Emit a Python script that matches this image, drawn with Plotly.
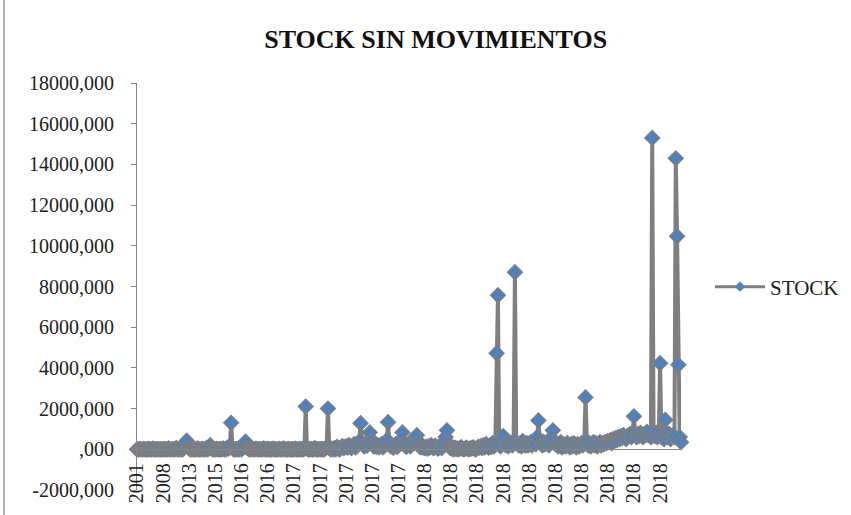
import plotly.graph_objects as go

# Category labels shown on the x axis (one label every 20 categories)
tick_labels = ["2001", "2008", "2013", "2015", "2016", "2016",
               "2017", "2017", "2017", "2017", "2017",
               "2018", "2018", "2018", "2018", "2018",
               "2018", "2018", "2018", "2018", "2018"]
label_step = 20

# Stock without movements, one value per item (in label order)
stock = [
    0, 0, 10, 0, 0, 20, 0, 0, 0, 15, 0, 0, 30, 0, 0, 0, 10, 0, 0, 0,
    0, 20, 0, 0, 40, 0, 0, 10, 0, 0, 60, 0, 0, 25, 0, 0, 80, 150, 420, 90,
    30, 0, 0, 15, 0, 0, 40, 0, 0, 0, 20, 0, 0, 60, 0, 30, 200, 50, 0, 0,
    0, 25, 0, 0, 10, 0, 50, 0, 0, 80, 40, 130, 1300, 60, 0, 0, 20, 0, 0, 45,
    0, 70, 160, 380, 90, 30, 0, 0, 20, 0, 0, 35, 0, 0, 10, 0, 0, 50, 0, 0,
    15, 0, 0, 0, 30, 0, 0, 0, 0, 20, 0, 0, 45, 0, 0, 0, 10, 0, 0, 0,
    0, 30, 0, 0, 0, 20, 0, 0, 40, 2100, 30, 0, 0, 15, 0, 0, 60, 0, 0, 10,
    0, 25, 0, 0, 50, 90, 2000, 70, 0, 30, 0, 60, 0, 120, 40, 0, 90, 150, 60, 100,
    140, 80, 200, 120, 60, 180, 250, 90, 150, 300, 400, 1280, 350, 200, 150, 260, 180, 300, 830, 400,
    250, 150, 300, 120, 200, 90, 180, 250, 100, 160, 300, 450, 1330, 350, 150, 200, 80, 180, 250, 120,
    200, 300, 450, 830, 250, 180, 120, 200, 300, 150, 250, 350, 300, 400, 690, 300, 150, 100, 200, 80,
    60, 120, 40, 150, 80, 200, 100, 60, 180, 120, 40, 80, 150, 60, 200, 400, 600, 930, 300, 100,
    60, 30, 0, 80, 20, 40, 0, 60, 100, 20, 0, 40, 80, 20, 0, 60, 30, 90, 40, 0,
    50, 120, 80, 150, 60, 200, 100, 250, 150, 80, 200, 120, 300, 150, 250, 4720, 7570, 300, 150, 400,
    650, 300, 200, 350, 150, 250, 300, 200, 400, 8700, 350, 250, 200, 300, 150, 400, 250, 180, 300, 200,
    250, 350, 200, 300, 400, 250, 600, 1420, 450, 300, 200, 350, 250, 300, 400, 200, 350, 500, 930, 400,
    250, 300, 150, 200, 350, 100, 250, 200, 150, 300, 200, 100, 250, 150, 300, 200, 100, 250, 150, 200,
    300, 200, 350, 2550, 400, 200, 300, 150, 250, 350, 200, 300, 150, 250, 350, 200, 300, 250, 350, 300,
    400, 350, 450, 300, 500, 400, 550, 450, 600, 500, 650, 550, 700, 600, 500, 650, 700, 750, 600, 800,
    1620, 700, 600, 750, 650, 800, 700, 600, 750, 700, 850, 700, 800, 600, 15300, 700, 650, 800, 600, 700,
    4230, 600, 700, 500, 1450, 800, 600, 750, 500, 650, 700, 600, 14300, 10470, 4150, 600, 350,
]

# Y axis ticks
y_ticks = list(range(-2000, 18001, 2000))
y_tick_text = [(f"{v},000" if v != 0 else ",000") for v in y_ticks]

idx = list(range(len(stock)))
x_tickvals = [i * label_step for i in range(len(tick_labels))]

LINE_GRAY = "#7f7f7f"
MARK_BLUE = "#4f81bd"
AXIS_GRAY = "#868686"
SERIF = "Liberation Serif, Times New Roman, serif"

fig = go.Figure()
fig.add_trace(go.Scatter(
    x=idx, y=stock, mode="lines+markers", name="STOCK",
    line=dict(color=LINE_GRAY, width=4),
    marker=dict(symbol="diamond", size=11.5, color=MARK_BLUE,
                line=dict(color=LINE_GRAY, width=1.3)),
    cliponaxis=False, showlegend=False,
))
# legend entry with a compact marker
fig.add_trace(go.Scatter(
    x=[None], y=[None], mode="lines+markers", name="STOCK",
    line=dict(color=LINE_GRAY, width=3),
    marker=dict(symbol="diamond", size=8, color=MARK_BLUE),
))

fig.update_layout(
    width=851, height=515,
    margin=dict(l=137, r=170, t=83, b=25, autoexpand=False),
    paper_bgcolor="white", plot_bgcolor="white",
    font=dict(family=SERIF, color="#222222"),
    title=dict(text="<b>STOCK SIN MOVIMIENTOS</b>", x=0.512, xanchor="center",
               y=1 - 39 / 515, yanchor="middle", yref="container",
               font=dict(family=SERIF, size=26, color="#111111")),
    showlegend=True,
    legend=dict(xref="container", yref="container",
                x=710 / 851, y=1 - 287 / 515, xanchor="left", yanchor="middle",
                itemwidth=50,
                font=dict(family=SERIF, size=21, color="#222222"),
                bgcolor="rgba(0,0,0,0)"),
    xaxis=dict(range=[0, len(stock) - 1], tickmode="array", tickvals=x_tickvals,
               ticktext=tick_labels, tickangle=-90, showgrid=False, zeroline=False,
               showline=True, linecolor=AXIS_GRAY, ticks="",
               anchor="free", position=0.1, ticklabelstandoff=5,
               tickfont=dict(family=SERIF, size=20, color="#222222")),
    yaxis=dict(range=[-2000, 18000], tickmode="array", tickvals=y_ticks,
               ticktext=y_tick_text, showgrid=False, zeroline=False,
               showline=True, linecolor=AXIS_GRAY, ticks="outside", ticklen=5,
               tickcolor=AXIS_GRAY, ticklabelstandoff=13,
               tickfont=dict(family=SERIF, size=20, color="#222222")),
    shapes=[dict(type="line", xref="paper", yref="paper",
                 x0=(4 - 137) / 544, x1=(4 - 137) / 544, y0=-0.08, y1=1.25,
                 line=dict(color="#9a9a9a", width=1.5))],
)

fig.write_html("out.html")
